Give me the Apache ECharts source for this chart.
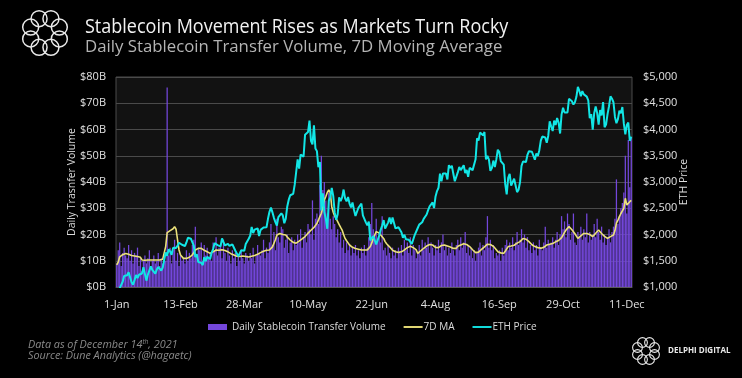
<!DOCTYPE html>
<html>
<head>
<meta charset="utf-8">
<script src="https://cdn.jsdelivr.net/npm/echarts@6/dist/echarts.min.js"></script>
<style>
html,body{margin:0;padding:0;background:#000;}
#chart{width:742px;height:378px;}
</style>
</head>
<body>
<div id="chart"></div>
<script>
// Daily stablecoin transfer volume ($B), Jan 1 - Dec 14, 2021
const volume = [
9,14,17,8,13,15,12, 11,16,10,14,9,13,12, 15,8,11,6,10,12,9, 11,14,7,10,12,9,10,
13,8,11,9,12,10,76, 12,15,9,14,18,10,13, 8,12,10,11,9,14,10, 13,11,16,18,23,12,15,
14,17,10,16,12,15,11, 13,10,17,14,19,12,15, 16,11,18,13,10,15,12, 9,14,11,13,8,12,10,
14,11,9,13,12,10,13, 11,15,9,12,16,13,12, 14,18,11,15,13,17,24, 16,21,14,26,19,17,23,
22,15,18,20,13,17,19, 14,18,16,20,17,22,15, 19,21,17,24,22,20,33, 18,26,28,24,39,50,37,
40,33,28,36,26,22,27, 24,19,22,17,21,15,18, 13,17,14,16,12,15,13, 16,12,14,11,15,13,16,
12,15,19,24,32,22,20, 26,18,21,17,27,14,15, 12,16,13,11,15,12,14, 11,15,13,16,12,18,14,
17,13,19,12,16,14,11, 13,16,12,18,14,17,15, 19,13,17,15,12,16,14, 18,13,17,20,14,16,12,
15,13,17,14,12,16,18, 14,19,15,17,21,13,16, 12,15,11,14,10,13,15, 17,12,16,14,19,27,15,
18,14,16,11,13,12,14, 10,15,12,16,18,14,17, 15,19,14,17,21,16,18, 22,17,20,15,19,14,16,
13,17,14,16,12,18,15, 14,17,23,15,18,16,17, 19,15,18,21,16,20,27, 22,25,19,28,24,18,21,
28,17,16,21,19,23,18, 22,19,28,17,21,18,20, 24,19,26,21,18,23,17, 20,16,19,22,17,21,23,
26,41,24,27,30,32,36, 50,28,56,38,57
];
// 7-day moving average ($B)
const ma7 = [
8.4,9.5,11.5,12.0,12.3,12.6,12.8, 12.8,12.5,12.2,12.0,11.9,11.8,11.7, 11.6,11.4,11.3,10.3,10.3,10.2,10.3,
10.3,10.2,10.3,10.4,10.3,10.2,10.3, 10.4,10.3,10.4,10.6,11.0,15.4,20.7, 21.0,21.5,21.7,22.2,23.0,22.0,18.0,
14.1,12.2,11.5,10.9,10.8,10.9,10.9, 11.3,11.8,12.2,13.2,14.1,14.5,14.7, 14.7,14.7,14.4,14.0,13.6,13.4,13.0,
12.8,13.1,13.4,13.8,14.1,14.2,14.0, 14.1,14.2,14.1,13.9,13.6,13.4,13.0, 12.7,12.4,12.2,11.9,11.7,11.5,11.6,
11.8,11.8,11.7,11.6,11.5,11.4,11.5, 11.7,11.9,12.0,12.2,12.5,12.8,13.1, 13.4,13.6,13.8,14.0,14.1,14.1,14.6,
15.3,16.0,18.0,19.8,20.1,20.4,20.3, 20.0,20.4,19.8,19.0,18.4,17.9,17.4, 17.0,16.6,16.7,17.0,17.5,17.8,18.3,
18.8,19.2,19.8,20.5,21.1,21.6,22.3, 22.7,23.0,24.2,25.5,26.8,28.1,30.5, 33.1,34.5,36.0,37.0,36.0,30.6,28.5,
27.0,26.0,24.9,23.8,22.7,21.7,20.0, 18.5,17.6,16.8,16.0,15.5,15.1,14.8, 14.7,14.5,14.4,14.2,14.1,14.0,14.1,
14.2,14.1,14.6,15.4,16.8,18.5,19.8, 21.1,21.1,20.6,19.8,19.2,18.5,17.3, 16.5,15.8,15.3,14.6,14.0,13.7,13.4,
13.4,13.2,13.0,13.4,13.8,14.1,14.6, 15.0,15.4,15.5,15.4,15.0,14.6,14.1, 12.8,13.3,13.8,14.2,14.7,15.1,15.6,
16.0,16.2,16.3,16.0,15.5,15.1,14.7, 15.0,15.4,15.8,16.0,16.0,15.8,15.6, 15.4,15.2,14.9,14.7,14.6,14.7,15.5,
15.7,16.0,16.3,16.5,16.6,16.2,15.8, 15.4,14.8,14.2,13.6,13.1,12.8,13.3, 13.8,14.3,14.7,15.3,15.9,16.3,16.6,
16.2,15.8,15.5,14.9,14.2,13.4,13.2, 13.0,12.9,12.8,13.6,14.5,15.4,15.5, 15.6,15.6,15.9,16.3,16.7,17.0,17.3,
17.9,18.5,18.4,18.2,18.0,17.3,16.7, 16.1,15.6,15.4,15.2,15.0,14.9,14.8, 14.7,15.1,15.6,16.0,16.2,16.3,16.5,
16.6,16.9,17.2,17.5,17.7,17.9,18.8, 19.8,20.8,21.7,22.4,23.0,22.5,21.8, 21.1,20.3,19.4,18.5,19.0,19.5,20.0,
20.4,20.5,20.4,20.4,20.0,19.6,19.2, 19.8,20.5,21.2,21.7,21.0,20.4,19.8, 19.3,18.9,18.5,18.8,19.2,19.5,19.8,
21.5,24.3,25.5,26.8,28.0,29.0,30.0, 33.8,31.2,30.6,32.5,33.0
];
// ETH price (USD)
const ethPrice = [
730,775,979,1041,1100,1208,1225,1224,1281,1262,1090,1044,1131,1229,1171,1233,1230,1257,1377,1382,1121,1236,1231,1392,1324,1357,1253,1332,1382,1377,1314,
1369,1515,1660,1594,1719,1677,1614,1746,1768,1744,1783,1843,1814,1804,1779,1781,1848,1937,1960,1920,1935,1781,1570,1626,1475,1446,1459,1417,
1570,1492,1575,1541,1533,1655,1723,1834,1869,1799,1826,1773,1924,1854,1791,1806,1823,1782,1817,1813,1788,1691,1678,1584,1587,1702,1716,1691,1819,1846,1919,
1977,2143,2028,2093,2107,2118,1971,2088,2072,2135,2158,2139,2299,2432,2514,2422,2317,2235,2172,2332,2357,2403,2363,2213,2303,2534,2663,2747,2757,2773,
2945,2952,3431,3253,3522,3490,3484,3902,3928,3952,4168,3785,3715,4079,3638,3588,3282,3380,2460,2784,2430,2296,2109,2643,2706,2888,2736,2420,2278,2386,2706,
2634,2707,2856,2688,2630,2715,2590,2517,2609,2471,2353,2372,2509,2538,2589,2364,2372,2231,2178,2245,1889,1875,1971,1990,1812,1829,1982,2089,2170,2275,
2113,2150,2227,2324,2198,2324,2316,2116,2147,2139,2147,2042,1939,1995,1911,1880,1899,1895,1820,1788,1994,2025,2124,2188,2191,2233,2298,2300,2381,2464,2536,
2561,2610,2504,2724,2827,2890,3158,3013,3163,3144,3164,3049,3322,3266,3310,3156,3014,3017,3183,3287,3225,3243,3320,3172,3228,3100,3270,3245,3226,3227,3433,
3834,3791,3941,3938,3889,3952,3431,3497,3427,3212,3266,3408,3287,3430,3614,3571,3398,3432,3329,2958,2765,3077,3156,2931,2925,3062,2934,2807,2853,3001,
3307,3391,3418,3380,3518,3587,3563,3576,3558,3425,3545,3493,3606,3788,3866,3830,3848,3748,3877,4155,4058,3971,4170,4086,4218,4131,3923,4288,4414,4325,4288,
4324,4586,4605,4537,4476,4519,4622,4812,4735,4636,4731,4668,4649,4627,4557,4217,4293,3998,4311,4437,4317,4094,4370,4269,4524,4044,4095,4294,4444,4632,
4587,4519,4240,4119,4198,4358,4309,4428,4111,3908,4084,4134,3785,3863
];
const tickLabels = ['1-Jan','13-Feb','28-Mar','10-May','22-Jun','4-Aug','16-Sep','29-Oct','11-Dec'];
const seriesNames = ['Daily Stablecoin Transfer Volume','7D MA','ETH Price'];

// category dates (D-Mon), one per day starting 1 Jan 2021
const months = ['Jan','Feb','Mar','Apr','May','Jun','Jul','Aug','Sep','Oct','Nov','Dec'];
const dates = [];
for (let i = 0; i < volume.length; i++) {
  const d = new Date(Date.UTC(2021, 0, 1 + i));
  dates.push(d.getUTCDate() + '-' + months[d.getUTCMonth()]);
}

const FONT = 'Open Sans';
const chart = echarts.init(document.getElementById('chart'), null, {renderer: 'canvas'});

function ring(cx, cy, R, r, w) {
  const els = [];
  for (let k = 0; k < 8; k++) {
    const a = k * Math.PI / 4 + Math.PI / 8;
    els.push({type: 'circle', shape: {cx: cx + R * Math.cos(a), cy: cy + R * Math.sin(a), r: r},
      style: {fill: 'none', stroke: '#e8e8e8', lineWidth: w}, silent: true});
  }
  return els;
}

const LINE_ICON = 'path://M0,0 L20,0 L20,2 L0,2 Z';

const graphics = [].concat(
  ring(45, 33, 15.5, 8, 1.5),
  ring(646, 351, 9.2, 4.9, 1.1),
  [
    {type: 'text', x: 85, y: 17, scaleX: 0.9, style: {text: 'Stablecoin Movement Rises as Markets Turn Rocky', fill: '#f2f2f2', font: '20px "' + FONT + '"'}},
    {type: 'text', x: 85, y: 39, style: {text: 'Daily Stablecoin Transfer Volume, 7D Moving Average', fill: '#b4b4b4', font: '16.8px "' + FONT + '"'}},
    {type: 'text', x: 28, y: 339, style: {
      text: '{a|Data as of December 14}{s|th}{a|, 2021}\n{a|Source: Dune Analytics (@hagaetc)}',
      rich: {
        a: {fill: '#8a8a8a', font: 'italic 10.8px "' + FONT + '"', lineHeight: 11.5},
        s: {fill: '#8a8a8a', font: 'italic 6.5px "' + FONT + '"', verticalAlign: 'top', padding: [0,0,4,0]}
      }}},
    {type: 'text', x: 668, y: 347, style: {text: 'DELPHI DIGITAL', fill: '#e8e8e8', font: 'bold 8px "' + FONT + '"'}}
  ]
);

chart.setOption({
  backgroundColor: '#000',
  animation: false,
  graphic: graphics,
  grid: {left: 116, right: 110, top: 77, bottom: 91, show: true, backgroundColor: '#121212', borderColor: '#4a4a4a', borderWidth: 1},
  legend: {
    data: [
      {name: seriesNames[0], icon: 'rect'},
      {name: seriesNames[1], icon: LINE_ICON, itemStyle: {color: '#ece27a'}, textStyle: {padding: [0, 0, 0, -4]}},
      {name: seriesNames[2], icon: LINE_ICON, itemStyle: {color: '#12e6e6'}, textStyle: {padding: [0, 0, 0, -4]}}
    ],
    left: 203, top: 317, itemWidth: 19, itemHeight: 6, itemGap: 18,
    textStyle: {color: '#dcdcdc', fontSize: 10, fontFamily: FONT}
  },
  xAxis: {
    type: 'category', data: dates, boundaryGap: true,
    axisLine: {lineStyle: {color: '#5a5a5a'}},
    axisTick: {interval: 42, length: 4, lineStyle: {color: '#777'}, alignWithLabel: true},
    axisLabel: {interval: 42, color: '#e0e0e0', fontSize: 11, fontFamily: FONT, margin: 12,
      formatter: function (v, idx) { return tickLabels[Math.round(idx / 43)] || v; }},
    splitLine: {show: false}
  },
  yAxis: [
    {type: 'value', min: 0, max: 80, interval: 10, name: 'Daily Trasnfer Volume', nameLocation: 'middle', nameGap: 38,
      nameMoveOverlap: false,
      nameTextStyle: {color: '#dcdcdc', fontSize: 10.5, fontFamily: FONT},
      axisLine: {show: false}, axisTick: {show: false},
      axisLabel: {color: '#e0e0e0', fontSize: 11, fontFamily: FONT, margin: 10, formatter: v => '$' + v + 'B'},
      splitLine: {lineStyle: {color: '#4a4a4a', width: 1}}},
    {type: 'value', min: 1000, max: 5000, interval: 500, name: 'ETH Price', nameLocation: 'middle', nameGap: 47,
      nameMoveOverlap: false,
      nameTextStyle: {color: '#dcdcdc', fontSize: 10.5, fontFamily: FONT},
      axisLine: {show: false}, axisTick: {show: false},
      axisLabel: {color: '#e0e0e0', fontSize: 11, fontFamily: FONT, margin: 11,
        formatter: v => '$' + String(v).replace(/\B(?=(\d{3})+(?!\d))/g, ',')},
      splitLine: {show: false}}
  ],
  series: [
    {name: seriesNames[0], type: 'bar', data: volume, yAxisIndex: 0, barCategoryGap: '15%',
      itemStyle: {color: '#7447dc'}},
    {name: seriesNames[1], type: 'line', data: ma7, yAxisIndex: 0, symbol: 'none',
      lineStyle: {color: '#ece27a', width: 1.6}, itemStyle: {color: '#ece27a'}},
    {name: seriesNames[2], type: 'line', data: ethPrice, yAxisIndex: 1, symbol: 'none', clip: true,
      lineStyle: {color: '#12e6e6', width: 2}, itemStyle: {color: '#12e6e6'}}
  ]
});
</script>
</body>
</html>
